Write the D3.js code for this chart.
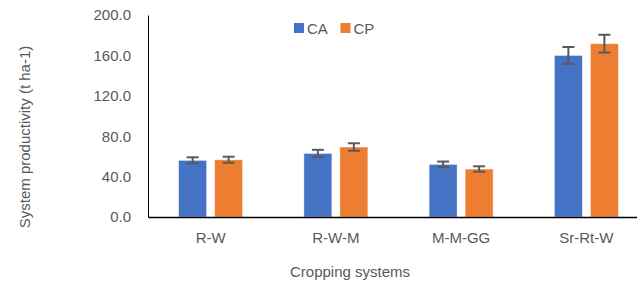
<!DOCTYPE html>
<html>
<head>
<meta charset="utf-8">
<script src="https://cdn.jsdelivr.net/npm/d3@7"></script>
<style>
  body { margin: 0; background: #fff; }
  svg text { font-family: 'Liberation Sans', Arial, sans-serif; fill: #595959; }
</style>
</head>
<body>
<svg class="canvas" width="637" height="284"></svg>
<script>
'use strict';
const systems = ['R-W', 'R-W-M', 'M-M-GG', 'Sr-Rt-W'],
  series = ['CA', 'CP'],
  caValues = [56.1, 63.0, 52.1, 160.0],
  cpValues = [56.7, 69.3, 47.5, 171.6],
  caErr = [3.0, 3.5, 2.8, 8.3],
  cpErr = [3.0, 3.7, 2.7, 8.8],
  yTicks = [0, 40, 80, 120, 160, 200];

const colors = { CA: '#4472C4', CP: '#ED7D31' };

const svg = d3.select('.canvas'),
  margin = { top: 15, left: 148, bottom: 217 };

const x0 = d3.scaleBand(systems, [148, 649]),
  x1 = d3.scaleBand(series, [0, x0.bandwidth()]).paddingInner(0.222).paddingOuter(0.85),
  y = d3.scaleLinear([0, 200], [margin.bottom, margin.top]);

const rows = systems.map((s, i) => ({
  system: s,
  bars: [
    { key: 'CA', value: caValues[i], err: caErr[i] },
    { key: 'CP', value: cpValues[i], err: cpErr[i] },
  ],
}));

// y axis
const yAxis = d3.axisLeft(y).tickValues(yTicks).tickSize(0).tickPadding(17)
  .tickFormat(d3.format('.1f'));
const gy = svg.append('g').attr('transform', `translate(${margin.left},0)`).call(yAxis);
gy.select('.domain').attr('stroke', '#000').attr('stroke-width', 1);
gy.selectAll('text').style('font-size', '15px').attr('fill', '#595959');

// bars
const groups = svg.selectAll('.grp').data(rows).enter().append('g')
  .attr('class', 'grp')
  .attr('transform', d => `translate(${x0(d.system)},0)`);

groups.selectAll('rect').data(d => d.bars).enter().append('rect')
  .attr('x', d => x1(d.key))
  .attr('width', x1.bandwidth())
  .attr('y', d => y(d.value))
  .attr('height', d => y(0) - y(d.value))
  .attr('fill', d => colors[d.key])
  .attr('stroke', '#fff')
  .attr('stroke-opacity', 0.6)
  .attr('stroke-width', 0.8);

// error bars
const eb = groups.selectAll('.err').data(d => d.bars).enter().append('g')
  .attr('class', 'err')
  .attr('stroke', '#595959')
  .attr('stroke-width', 2);
eb.append('line')
  .attr('x1', d => x1(d.key) + x1.bandwidth() / 2)
  .attr('x2', d => x1(d.key) + x1.bandwidth() / 2)
  .attr('y1', d => y(d.value + d.err))
  .attr('y2', d => y(d.value - d.err));
[1, -1].forEach(sgn => {
  eb.append('line')
    .attr('x1', d => x1(d.key) + x1.bandwidth() / 2 - 6)
    .attr('x2', d => x1(d.key) + x1.bandwidth() / 2 + 6)
    .attr('y1', d => y(d.value + sgn * d.err))
    .attr('y2', d => y(d.value + sgn * d.err));
});

// x axis
const xAxis = d3.axisBottom(x0).tickSize(0).tickPadding(15);
const gx = svg.append('g').attr('transform', `translate(0,${margin.bottom})`).call(xAxis);
gx.select('.domain').attr('stroke', '#000').attr('stroke-width', 1.5);
gx.selectAll('text').style('font-size', '15px').attr('fill', '#595959');

// axis titles
svg.append('text')
  .attr('transform', 'translate(30,137) rotate(-90)')
  .attr('text-anchor', 'middle')
  .style('font-size', '15px')
  .text('System productivity (t ha-1)');
svg.append('text')
  .attr('x', 350).attr('y', 277)
  .attr('text-anchor', 'middle')
  .style('font-size', '15px')
  .text('Cropping systems');

// legend
const legend = svg.append('g').attr('transform', 'translate(294,23)');
const li = legend.selectAll('g').data(series).enter().append('g')
  .attr('transform', (d, i) => `translate(${i * 46.5},0)`);
li.append('rect').attr('width', 10).attr('height', 10).attr('fill', d => colors[d]);
li.append('text').attr('x', 13).attr('y', 10.5).style('font-size', '15px').text(d => d);
</script>
</body>
</html>
